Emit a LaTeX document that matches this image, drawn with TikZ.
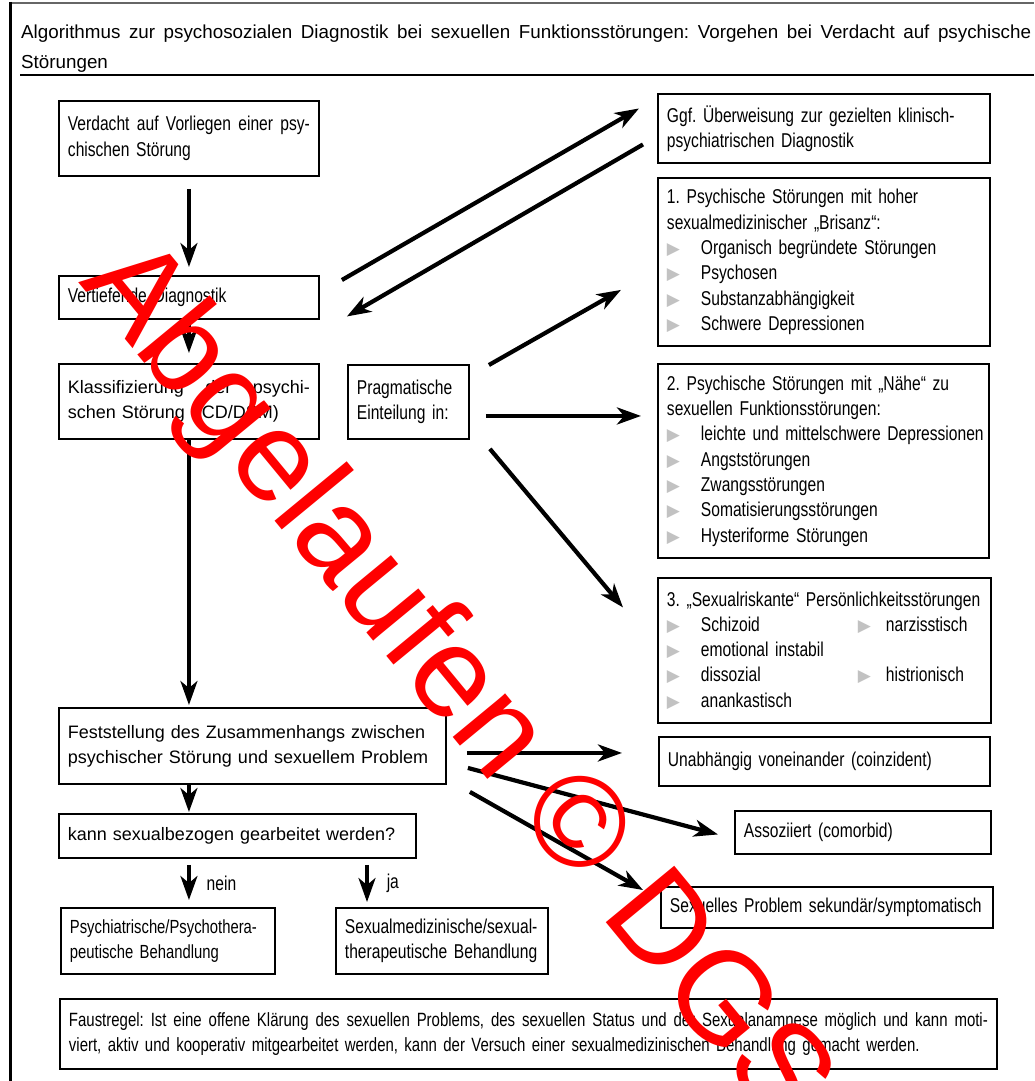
\documentclass[tikz,border=0pt]{standalone}
\usepackage{fontspec}
\setmainfont{Liberation Sans}
\newfontfamily\condfont{Liberation Sans}[FakeStretch=0.78]
\newfontfamily\symfont{DejaVu Sans}
\usepackage{tikz}
\usetikzlibrary{arrows.meta}
\frenchspacing

\definecolor{trigray}{gray}{0.76}
\newcommand{\tri}{{\symfont\fontsize{17pt}{25pt}\selectfont\color{trigray}▶}}
\newcommand{\itm}[2][34pt]{\makebox[#1][l]{\tri}#2}
\newcommand{\jline}[2]{\hbox to #1{\spaceskip=0.25em plus 1fil\relax #2}}

\begin{document}
\begin{tikzpicture}[x=1pt,y=-1pt,>={Stealth[length=24pt,width=17pt,inset=7pt]},
  box/.style={draw,line width=1.9pt,anchor=north west,inner xsep=9pt,inner ysep=1pt,align=left},
  cond/.style={font=\condfont\fontsize{#1}{25.3pt}\selectfont}, cond/.default=20pt,
  reg/.style={font=\fontsize{18pt}{25pt}\selectfont},
  flow/.style={->,line width=3.5pt},
  diag/.style={flow,line width=4.2pt},
  wmark/.style={anchor=base west,inner sep=0pt,text=red,rotate=-50.5,font=\fontsize{129pt}{129pt}\selectfont}]

\useasboundingbox (0,0) rectangle (1034,1081);

% frame and title
\draw[line width=1.2pt,black!60] (10,3) -- (1034,3);
\draw[line width=3pt] (10,2) -- (10,1081);
\node[anchor=base west,inner sep=0pt,text width=1010pt,align=left,font=\fontsize{18.8pt}{29pt}\selectfont] (titel) at (21,39)
  {\jline{1010pt}{Algorithmus zur psychosozialen Diagnostik bei sexuellen Funktionsstörungen: Vorgehen bei Verdacht auf psychische}\\Störungen};
\draw[line width=2pt] (20,75) -- (1034,75);

% left column
\node[box,cond,text width=242pt,minimum height=75pt] (verdacht) at (58,100) {\jline{242pt}{Verdacht auf Vorliegen einer psy-}\\chischen Störung};
\node[box,cond,text width=242pt,minimum height=43pt] (vertiefend) at (58,275) {Vertiefende Diagnostik};
\node[box,reg,text width=242pt,minimum height=75pt] (klassifizierung) at (58,363) {\jline{242pt}{Klassifizierung der psychi-}\\schen Störung (ICD/DSM)};
\node[box,cond,text width=103pt,minimum height=74pt] (pragmatisch) at (347,364) {Pragmatische\\Einteilung in:};
\node[box,reg,text width=369pt,minimum height=76pt] (zusammenhang) at (58,707) {\mbox{Feststellung des Zusammenhangs zwischen}\\\mbox{psychischer Störung und sexuellem Problem}};
\node[box,reg,text width=339pt,minimum height=44pt] (sexualbezogen) at (58,813) {\mbox{kann sexualbezogen gearbeitet werden?}};
\node[box,cond=19pt,text width=196pt,minimum height=66pt] (psychiatrisch) at (60,907) {\mbox{Psychiatrische/Psychothera-}\\peutische Behandlung};
\node[box,cond,text width=194pt,minimum height=66pt] (sexualmedizinisch) at (335,907) {\mbox{Sexualmedizinische/sexual-}\\therapeutische Behandlung};

% right column
\node[box,cond,text width=314pt,minimum height=69pt] (ueberweisung) at (657,93) {Ggf. Überweisung zur gezielten klinisch-\\psychiatrischen Diagnostik};
\node[box,cond,text width=314pt,minimum height=168pt] (brisanz) at (657,177) {1. Psychische Störungen mit hoher\\sexualmedizinischer „Brisanz“:\\\itm{Organisch begründete Störungen}\\\itm{Psychosen}\\\itm{Substanzabhängigkeit}\\\itm{Schwere Depressionen}};
\node[box,cond,text width=313pt,minimum height=194pt] (naehe) at (657,363) {2. Psychische Störungen mit „Nähe“ zu\\sexuellen Funktionsstörungen:\\\itm{\mbox{leichte und mittelschwere Depressionen}}\\\itm{Angststörungen}\\\itm{Zwangsstörungen}\\\itm{Somatisierungsstörungen}\\\itm{Hysteriforme Störungen}};
\node[box,cond,text width=315pt,minimum height=145pt] (riskant) at (657,577) {\mbox{3. „Sexualriskante“ Persönlichkeitsstörungen}\\\itm{\makebox[157pt][l]{Schizoid}}\itm[28pt]{narzisstisch}\\\itm{emotional instabil}\\\itm{\makebox[157pt][l]{dissozial}}\itm[28pt]{histrionisch}\\\itm{anankastisch}};
\node[box,cond,text width=313pt,minimum height=49pt] (koinzident) at (658,736) {Unabhängig voneinander (coinzident)};
\node[box,cond,text width=238pt,minimum height=43pt] (komorbid) at (734,810) {Assoziiert (comorbid)};
\node[box,cond,text width=314pt,minimum height=41pt] (sekundaer) at (660,886) {\mbox{Sexuelles Problem sekundär/symptomatisch}};

\node[box,cond=19.2pt,text width=919pt,minimum height=70pt] (faustregel) at (59,998) {\jline{919pt}{Faustregel: Ist eine offene Klärung des sexuellen Problems, des sexuellen Status und der Sexualanamnese möglich und kann moti-}\\viert, aktiv und kooperativ mitgearbeitet werden, kann der Versuch einer sexualmedizinischen Behandlung gemacht werden.};

% vertical flow
\draw[flow,shorten <=12pt,shorten >=8pt] (verdacht) -- (vertiefend);
\draw[flow,shorten >=10pt] (vertiefend) -- (klassifizierung);
\draw[flow,shorten >=2pt] (klassifizierung.south) -- (klassifizierung.south |- zusammenhang.north);
\draw[flow,shorten >=1pt] (klassifizierung.south |- zusammenhang.south) -- (klassifizierung.south |- sexualbezogen.north);
\draw[flow,shorten <=6pt,shorten >=7pt] (klassifizierung.south |- sexualbezogen.south) -- (klassifizierung.south |- psychiatrisch.north)
  node[midway,anchor=west,xshift=14pt,inner sep=2pt,cond] {nein};
\draw[flow,shorten <=6pt,shorten >=5pt] ([xshift=32pt]sexualmedizinisch.north west |- sexualbezogen.south) -- ([xshift=32pt]sexualmedizinisch.north west)
  node[midway,anchor=west,xshift=16pt,inner sep=2pt,cond] {ja};

% diagonal arrows
\draw[diag] ([shift={(22,5)}]vertiefend.north east) -- ([shift={(-18,-20)}]ueberweisung.west);
\draw[diag] ([shift={(-14,16)}]ueberweisung.west) -- ([shift={(27,19)}]vertiefend.east);
\draw[diag] ([shift={(19,1)}]pragmatisch.north east) -- ([shift={(-36,-57)}]brisanz.south west);
\draw[diag,shorten >=16pt] ([shift={(16,14)}]pragmatisch.east) coordinate (p2) -- (p2 -| naehe.west);
\draw[diag] ([shift={(20,9)}]pragmatisch.south east) -- ([shift={(-34,-43)}]riskant.west);
\draw[diag,shorten >=36pt] ([shift={(20,7)}]zusammenhang.east) coordinate (f1) -- (f1 -| koinzident.west);
\draw[diag] ([shift={(21,22)}]zusammenhang.east) -- ([shift={(-16,2)}]komorbid.west);
\draw[diag] ([shift={(23,7)}]zusammenhang.south east) -- ([shift={(-17,4)}]sekundaer.north west);

% stamp
\node[wmark] (stempel) at (78,282) {Abgelaufen © DGS};
\end{tikzpicture}
\end{document}
